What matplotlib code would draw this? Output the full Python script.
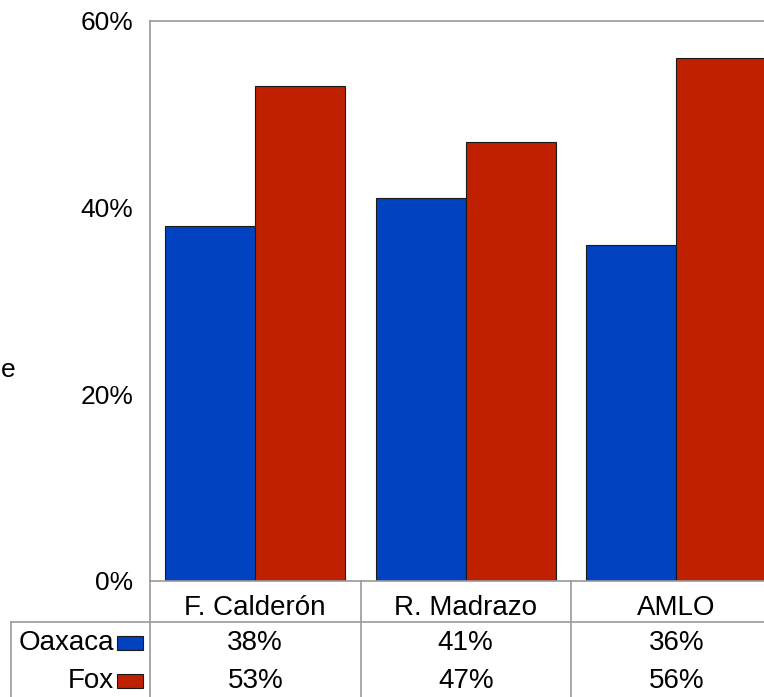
import matplotlib
matplotlib.use("Agg")
import matplotlib.pyplot as plt
from matplotlib.patches import Rectangle
from matplotlib.lines import Line2D

plt.rcParams['font.family'] = ['Liberation Sans', 'DejaVu Sans']

categories = ["F. Calderón", "R. Madrazo", "AMLO"]
series_names = ["Oaxaca", "Fox"]
oaxaca = [38, 41, 36]
fox = [53, 47, 56]
colors = ["#0042BF", "#BF2000"]
yticks = [0, 20, 40, 60]
ylabel_tail = "e"

W, H = 764, 697
fig = plt.figure(figsize=(W / 100, H / 100), dpi=100)

# axes in pixel layout (extends past right edge, as in the cropped reference)
left_px, right_px, top_px, bottom_px = 150, 781.5, 21, 581
ax = fig.add_axes([left_px / W, (H - bottom_px) / H,
                   (right_px - left_px) / W, (bottom_px - top_px) / H])

fs = 19
fs_tab = 20
grey = "#9a9a9a"
n = len(categories)
xs = [i + 0.5 for i in range(n)]
bw = 90 / 210.5
ax.bar([x - bw / 2 for x in xs], oaxaca, width=bw, color=colors[0],
       edgecolor="#1a1a1a", linewidth=0.8)
ax.bar([x + bw / 2 for x in xs], fox, width=bw, color=colors[1],
       edgecolor="#1a1a1a", linewidth=0.8)

ax.set_xlim(0, n)
ax.set_ylim(0, 60)
ax.set_yticks(yticks)
ax.set_yticklabels([f"{v}%" for v in yticks], fontsize=fs)
ax.tick_params(axis='y', length=0, pad=12)
ax.set_xticks([])
for s in ax.spines.values():
    s.set_color(grey)
    s.set_linewidth(1.2)


def fy(ypix):
    return (H - ypix) / H


def fx(xpix):
    return xpix / W


# Table beneath
lines = [
    ((left_px, left_px), (bottom_px, H)),
    ((11, W), (622, 622)),
    ((11, 11), (622, H)),
]
for k in range(1, n):
    xp = left_px + k * (right_px - left_px) / n
    lines.append(((xp, xp), (bottom_px, H)))
for (x0, x1), (y0, y1) in lines:
    fig.add_artist(Line2D([fx(x0), fx(x1)], [fy(y0), fy(y1)],
                          transform=fig.transFigure, color=grey, lw=1.2))

xform = ax.get_xaxis_transform()
row_y = [643, 681]
for i, c in enumerate(categories):
    ax.text(xs[i], (bottom_px - 608) / (bottom_px - top_px), c, transform=xform,
            ha="center", va="center", fontsize=fs_tab, clip_on=False)
    for r, vals in enumerate([oaxaca, fox]):
        ax.text(xs[i], (bottom_px - row_y[r]) / (bottom_px - top_px),
                f"{vals[i]}%", transform=xform, ha="center", va="center",
                fontsize=fs_tab, clip_on=False)

for r, name in enumerate(series_names):
    fig.text(fx(114), fy(row_y[r]), name, ha="right", va="center", fontsize=fs_tab)
    fig.add_artist(Rectangle((fx(117), fy(row_y[r] + 7)), (143 - 117) / W, 14 / H,
                             transform=fig.transFigure, facecolor=colors[r],
                             edgecolor="#1a1a1a", lw=0.8))

fig.text(fx(1), fy(370), ylabel_tail, ha="left", va="center", fontsize=fs)

fig.savefig("out.png", dpi=100)
